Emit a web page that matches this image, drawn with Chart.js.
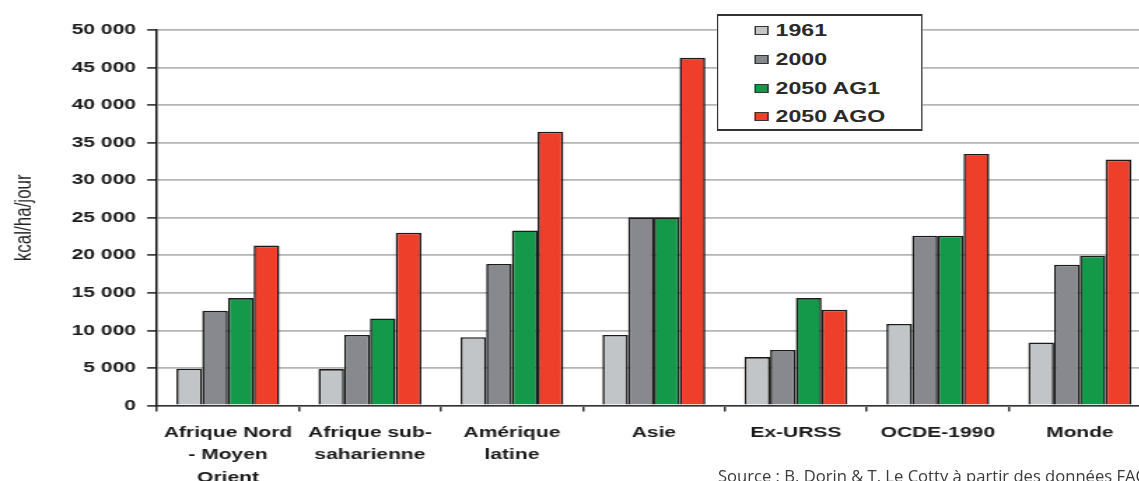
<!DOCTYPE html>
<html>
<head>
<meta charset="utf-8">
<script src="https://cdn.jsdelivr.net/npm/chart.js@4.4.1/dist/chart.umd.min.js"></script>
<style>
  html, body { margin: 0; padding: 0; background: #fff; overflow: hidden; width: 1139px; height: 481px; }
  #stage { position: absolute; left: 0; top: 0; width: 826px; height: 481px; transform: scaleX(1.4); transform-origin: 0 0; }
  #wrap { position: absolute; left: 0; top: 0; width: 826px; height: 481px; }
  #legend { position: absolute; left: 512px; top: 14px; width: 147px; height: 117px; box-sizing: border-box;
            border-top: 2px solid #333; border-bottom: 2px solid #333; border-left: 1.5px solid #333; border-right: 1.5px solid #333;
            background: #fff; font-family: "Liberation Sans", Arial, sans-serif; font-weight: bold; font-size: 16.5px; color: #2a2a2a; }
  .row { position: absolute; left: 26px; height: 20px; display: flex; align-items: center; }
  .sw { width: 10px; height: 9px; border: 1.2px solid #333; margin-right: 5px; box-sizing: border-box; }
  #source { position: absolute; left: 718px; top: 466px; white-space: nowrap; font-family: "Open Sans", sans-serif;
            font-size: 16.6px; color: #3a3a3a; line-height: 20px; }
</style>
</head>
<body>
<div id="stage">
  <div id="wrap"><canvas id="c"></canvas></div>
  <div id="legend"></div>
</div>
<div id="source">Source : B. Dorin &amp; T. Le Cotty à partir des données FAO</div>
<script>
const categories = [["Afrique Nord", "- Moyen", "Orient"], ["Afrique sub-", "saharienne"], ["Amérique", "latine"], "Asie", "Ex-URSS", "OCDE-1990", "Monde"];
const seriesNames = ["1961", "2000", "2050 AG1", "2050 AGO"];
const v1961 = [4900, 4850, 9100, 9400, 6450, 10850, 8400];
const v2000 = [12600, 9400, 18850, 25050, 7400, 22600, 18750];
const vAG1  = [14300, 11600, 23300, 25050, 14300, 22600, 19950];
const vAGO  = [21300, 23000, 36450, 46300, 12750, 33500, 32750];
const yTicks = [0, 5000, 10000, 15000, 20000, 25000, 30000, 35000, 40000, 45000, 50000];
const colors = ["#c1c5c8", "#88898e", "#14984a", "#ee3f2b"];
const seriesValues = [v1961, v2000, vAG1, vAGO];

Chart.defaults.font.family = '"Liberation Sans", Arial, sans-serif';
Chart.defaults.color = '#1a1a1a';

const datasets = seriesNames.map((name, i) => ({
  label: name,
  data: seriesValues[i],
  backgroundColor: colors[i],
  borderColor: '#1a1a1a',
  borderWidth: 1.6,
  borderSkipped: 'bottom',
  categoryPercentage: 0.725,
  barPercentage: 1.0
}));

new Chart(document.getElementById('c'), {
  type: 'bar',
  data: { labels: categories, datasets: datasets },
  options: {
    responsive: true,
    maintainAspectRatio: false,
    animation: false,
    layout: { padding: { top: 30, right: 4, left: 0, bottom: 0 } },
    plugins: { legend: { display: false }, tooltip: { enabled: false } },
    scales: {
      x: {
        offset: true,
        grid: { offset: true, drawOnChartArea: false, drawTicks: true, tickLength: 6, tickColor: '#333', lineWidth: 1.5 },
        border: { color: '#333', width: 1.5 },
        ticks: { font: { size: 15, weight: 'bold', lineHeight: 1.5 }, color: '#1a1a1a', padding: 10, maxRotation: 0, autoSkip: false },
        afterFit: (s) => { s.height = 75.5; }
      },
      y: {
        min: 0, max: 50000,
        afterBuildTicks: (s) => { s.ticks = yTicks.map(v => ({ value: v })); },
        grid: { color: '#b5b5b5', lineWidth: 1.8, drawTicks: true, tickLength: 7, tickColor: '#222', tickWidth: 1.5 },
        border: { color: '#111', width: 1.5 },
        ticks: {
          font: { size: 15, weight: 'bold' }, color: '#1a1a1a', padding: 8,
          callback: (v) => v === 0 ? '0' : (Math.floor(v / 1000) + ' 000')
        },
        title: { display: true, text: 'kcal/ha/jour', font: { size: 17 }, color: '#222', padding: { top: 7, bottom: 0 } },
        afterFit: (s) => { s.width = 112.1; }
      }
    }
  }
});

// legend built from the series arrays
const lg = document.getElementById('legend');
const rowCenters = [16.5, 45.5, 74.5, 102.5];
seriesNames.forEach((name, i) => {
  const r = document.createElement('div');
  r.className = 'row';
  r.style.top = (rowCenters[i] - 2 - 10) + 'px';
  const sw = document.createElement('div');
  sw.className = 'sw';
  sw.style.background = colors[i];
  const t = document.createElement('span');
  t.textContent = name;
  r.appendChild(sw); r.appendChild(t);
  lg.appendChild(r);
});
</script>
</body>
</html>
